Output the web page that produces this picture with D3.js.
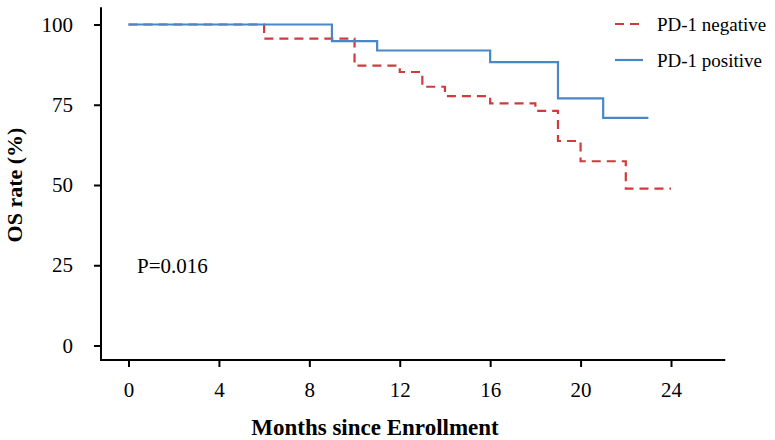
<!DOCTYPE html>
<html>
<head>
<meta charset="utf-8">
<script src="https://cdn.jsdelivr.net/npm/d3@7"></script>
<style>
  html, body { margin: 0; padding: 0; background: #fff; }
  svg { display: block; }
</style>
</head>
<body>
<svg id="chart" width="775" height="440"></svg>
<script>
// ---- data ----
const seriesNames = ["PD-1 negative", "PD-1 positive"];
const negTime = [0, 6, 10, 12, 13, 14, 16, 18, 19, 20, 22, 24];
const negSurv = [100, 95.6, 87.2, 85.2, 80.6, 77.7, 75.4, 73.1, 63.7, 57.4, 48.9, 48.9];
const posTime = [0, 9, 11, 16, 19, 21, 23];
const posSurv = [100, 94.8, 91.9, 88.3, 77.0, 70.9, 70.9];
const xTicks = [0, 4, 8, 12, 16, 20, 24];
const yTicks = [0, 25, 50, 75, 100];
const pText = "P=0.016";
const xTitle = "Months since Enrollment";
const yTitle = "OS rate (%)";

// ---- layout ----
const svg = d3.select("#chart");
const serif = "'Liberation Serif', 'Times New Roman', serif";
const x = d3.scaleLinear().domain([0, 24]).range([128.5, 671]);
const y = d3.scaleLinear().domain([0, 100]).range([345.5, 24.5]);
const xAxisY = 360, yAxisX = 101;
const colNeg = "#d03a3a", colPos = "#4a86c8";

// axes
const gx = svg.append("g").attr("transform", `translate(0,${xAxisY})`)
  .call(d3.axisBottom(x).tickValues(xTicks).tickSize(7).tickSizeOuter(0));
gx.select(".domain").remove();
gx.selectAll(".tick line").attr("stroke", "#000").attr("stroke-width", 2);
gx.selectAll(".tick text").attr("y", 37).attr("dy", "0")
  .attr("font-family", serif).attr("font-size", 21).attr("fill", "#000");

const gy = svg.append("g").attr("transform", `translate(${yAxisX},0)`)
  .call(d3.axisLeft(y).tickValues(yTicks).tickSize(7).tickPadding(21).tickSizeOuter(0));
gy.select(".domain").remove();
gy.selectAll(".tick line").attr("stroke", "#000").attr("stroke-width", 2);
gy.selectAll(".tick text").attr("font-family", serif).attr("font-size", 21).attr("fill", "#000");

// axis lines
svg.append("line").attr("x1", yAxisX).attr("x2", yAxisX)
  .attr("y1", y(105.4)).attr("y2", xAxisY + 1)
  .attr("stroke", "#000").attr("stroke-width", 2);
svg.append("line").attr("x1", yAxisX - 1).attr("x2", x(26.4))
  .attr("y1", xAxisY).attr("y2", xAxisY)
  .attr("stroke", "#000").attr("stroke-width", 2);

// curves
const line = d3.line().x(d => x(d[0])).y(d => y(d[1])).curve(d3.curveStepAfter);
const negData = negTime.map((t, i) => [t, negSurv[i]]);
const posData = posTime.map((t, i) => [t, posSurv[i]]);
svg.append("path").datum(negData).attr("d", line)
  .attr("fill", "none").attr("stroke", colNeg).attr("stroke-width", 2.2)
  .attr("stroke-dasharray", "9,6");
svg.append("path").datum(posData).attr("d", line)
  .attr("fill", "none").attr("stroke", colPos).attr("stroke-width", 2.2);

// legend
const legend = svg.append("g");
const legItems = [
  { name: seriesNames[0], color: colNeg, dash: "9,6", ly: 24 },
  { name: seriesNames[1], color: colPos, dash: null, ly: 60 }
];
legItems.forEach(d => {
  legend.append("line").attr("x1", 615).attr("x2", 643).attr("y1", d.ly).attr("y2", d.ly)
    .attr("stroke", d.color).attr("stroke-width", 2.2)
    .attr("stroke-dasharray", d.dash);
  legend.append("text").attr("x", 657).attr("y", d.ly + 6.5)
    .attr("font-family", serif).attr("font-size", 19).attr("fill", "#000")
    .text(d.name);
});

// p value
svg.append("text").attr("x", 137).attr("y", 273)
  .attr("font-family", serif).attr("font-size", 21).attr("fill", "#000").text(pText);

// titles
svg.append("text").attr("x", 375).attr("y", 435).attr("text-anchor", "middle")
  .attr("font-family", serif).attr("font-weight", "bold").attr("font-size", 23)
  .attr("fill", "#000").text(xTitle);
svg.append("text").attr("transform", `translate(22,${y(50)}) rotate(-90)`)
  .attr("text-anchor", "middle")
  .attr("font-family", serif).attr("font-weight", "bold").attr("font-size", 22)
  .attr("fill", "#000").text(yTitle);
</script>
</body>
</html>
